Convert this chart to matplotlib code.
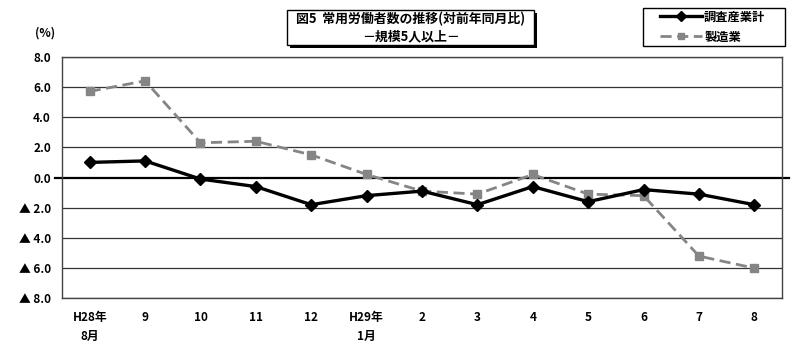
import matplotlib
matplotlib.use("Agg")
import matplotlib.pyplot as plt
import numpy as np

plt.rcParams['font.family'] = ['Noto Sans CJK JP', 'DejaVu Sans']

# data (対前年同月比, %)
months = ["H28年\n8月", "9", "10", "11", "12", "H29年\n1月", "2", "3", "4", "5", "6", "7", "8"]
allIndustries = [1.0, 1.1, -0.1, -0.6, -1.8, -1.2, -0.9, -1.8, -0.6, -1.6, -0.8, -1.1, -1.8]
manufacturing = [5.7, 6.4, 2.3, 2.4, 1.5, 0.2, -0.9, -1.1, 0.2, -1.1, -1.2, -5.2, -6.0]
yTicks = [8, 6, 4, 2, 0, -2, -4, -6, -8]
yTickLabels = ["8.0", "6.0", "4.0", "2.0", "0.0", "▲ 2.0", "▲ 4.0", "▲ 6.0", "▲ 8.0"]

W, H = 800, 351
fig = plt.figure(figsize=(W / 100, H / 100), dpi=100)
ax = fig.add_axes([0.0775, 0.150, 0.900, 0.6885])

x = np.arange(len(months))
ax.set_xlim(-0.5, len(months) - 0.5)
ax.set_ylim(-8, 8)

for t in yTicks:
    if t != 0:
        ax.axhline(t, color="#333333", lw=0.9, zorder=1)
ax.axhline(0, color="black", lw=1.6, zorder=1, xmin=-0.01, xmax=1.01, clip_on=False)

l2, = ax.plot(x, manufacturing, color="#858585", lw=2.0, ls=(0, (4, 2)),
              marker="s", ms=6, mfc="#858585", mec="#858585", zorder=3)
l1, = ax.plot(x, allIndustries, color="black", lw=2.4,
              marker="D", ms=6.5, mfc="black", mec="black", zorder=4)

ax.set_yticks(yTicks)
ax.set_yticklabels(yTickLabels, fontsize=8.5, fontweight="bold")
ax.set_xticks(x)
ax.set_xticklabels(months, fontsize=8.5, fontweight="bold", linespacing=1.6,
                   va="top")
ax.tick_params(axis="x", length=0, pad=9)
ax.tick_params(axis="y", length=0, pad=8)
for s in ax.spines.values():
    s.set_color("#444444")
    s.set_linewidth(1.0)

fig.text(0.056, 0.905, "(%)", fontsize=8.5, fontweight="bold", ha="center", va="center")

# title box with drop shadow (pixel coords -> figure fraction)
def box(x0, y0, x1, y1, **kw):
    return plt.Rectangle((x0 / W, 1 - y1 / H), (x1 - x0) / W, (y1 - y0) / H,
                         transform=fig.transFigure, **kw)

fig.patches.append(box(290, 13, 537, 48, fc="black", ec="none", zorder=1))
fig.patches.append(box(287, 10, 534, 45, fc="white", ec="black", lw=1.0, zorder=2))
fig.text(411 / W, 1 - 27.5 / H, "図5  常用労働者数の推移(対前年同月比)\n－規模5人以上－",
         fontsize=9.3, fontweight="bold", ha="center", va="center", linespacing=1.2,
         zorder=3)

# legend box
fig.patches.append(box(643, 8, 785, 46, fc="white", ec="black", lw=1.0, zorder=2))
leg = fig.legend([l1, l2], ["調査産業計", "製造業"], loc="center left",
                 bbox_to_anchor=(654 / W, 1 - 27 / H), frameon=False,
                 handlelength=3.4, handletextpad=0.2, borderpad=0.0,
                 labelspacing=0.6, prop={'weight': 'bold', 'size': 8.8})
leg.set_zorder(3)
for h in leg.legend_handles:
    h.set_markersize(5)

fig.savefig("out.png", dpi=100)
